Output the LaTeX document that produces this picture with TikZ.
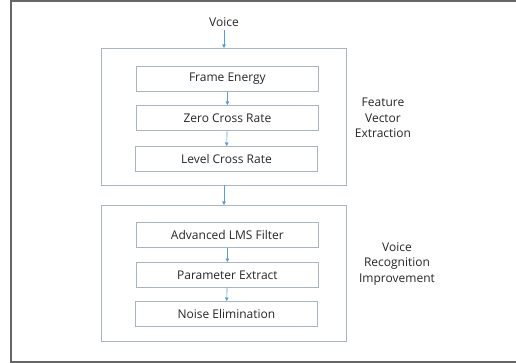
\documentclass[tikz,border=0pt]{standalone}
\usepackage{fontspec}
\setmainfont{Open Sans}
\usetikzlibrary{arrows.meta}
\definecolor{boxline}{HTML}{A8B4C0}
\definecolor{arrowc}{HTML}{5B9BD5}
\definecolor{frameline}{HTML}{666666}
\begin{document}
\begin{tikzpicture}[x=1pt,y=-1pt,
  every node/.style={font=\fontsize{12}{15.5}\selectfont, text=black!85},
  stage/.style={draw=boxline, line width=0.8pt, minimum width=182pt, minimum height=25pt, inner sep=0pt, anchor=north west},
  group/.style={draw=boxline, line width=0.8pt},
  flow/.style={draw=arrowc, line width=0.6pt, -{Triangle[length=3.5pt,width=3.5pt]}},
  lbl/.style={align=center}]
\useasboundingbox (0,0) rectangle (516,363);
\draw[frameline, line width=1.6pt] (11,363) -- (11,1) -- (516,1);
\draw[frameline, line width=1.6pt] (11,362) -- (516,362);
% groups
\draw[group] (101.5,48) rectangle (346.5,185);
\draw[group] (101.5,205) rectangle (346.5,341);
\coordinate (g1top) at (224,48);
\coordinate (g1bot) at (224,185);
\coordinate (g2top) at (224,205);
% stages
\node[stage] (fe) at (136,66) {Frame Energy};
\node[stage] (zc) at (136,105) {Zero Cross Rate};
\node[stage] (lc) at (135,146) {Level Cross Rate};
\node[stage] (al) at (136,222) {Advanced LMS Filter};
\node[stage] (pe) at (136,262) {Parameter Extract};
\node[stage] (ne) at (135,301) {Noise Elimination};
\node (voice) at (224,22) {Voice};
\node[lbl] (fve) at (383,118) {Feature\\Vector\\Extraction};
\node[lbl] (vri) at (397,264) {Voice\\Recognition\\Improvement};
% arrows
\draw[flow] (voice) -- (g1top);
\draw[flow] (fe) -- (zc);
\draw[flow] (zc) -- (lc);
\draw[flow] (g1bot) -- (g2top);
\draw[flow] (al) -- (pe);
\draw[flow] (pe) -- (ne);
\end{tikzpicture}
\end{document}
